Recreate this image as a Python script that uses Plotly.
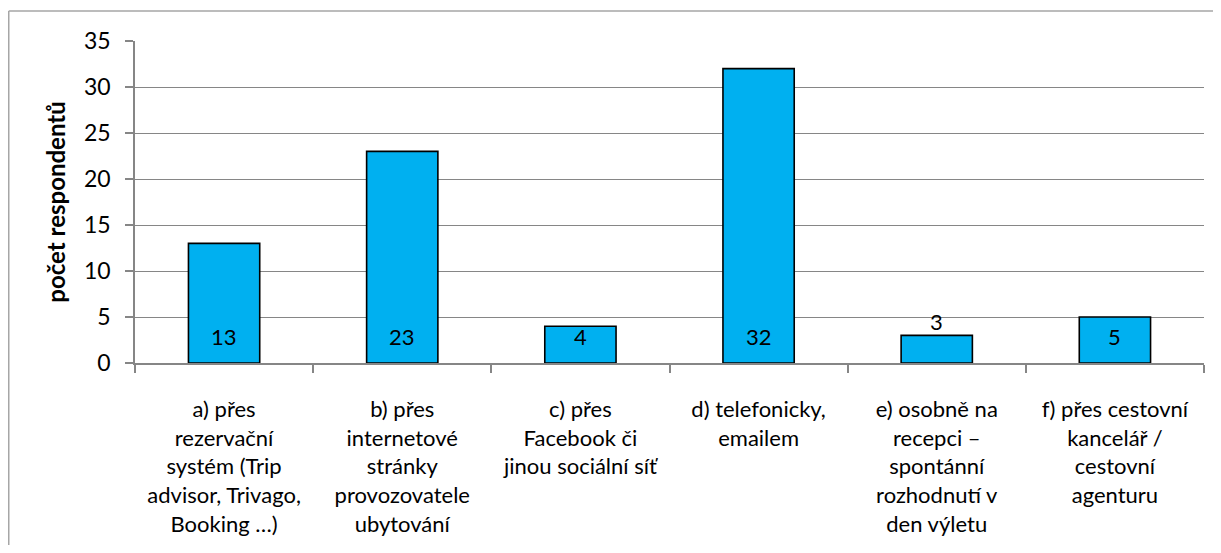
import plotly.graph_objects as go

categories = [
    "a) přes<br>rezervační<br>systém (Trip<br>advisor, Trivago,<br>Booking …)",
    "b) přes<br>internetové<br>stránky<br>provozovatele<br>ubytování",
    "c) přes<br>Facebook či<br>jinou sociální síť",
    "d) telefonicky,<br>emailem",
    "e) osobně na<br>recepci –<br>spontánní<br>rozhodnutí v<br>den výletu",
    "f) přes cestovní<br>kancelář /<br>cestovní<br>agenturu",
]
values = [13, 23, 4, 32, 3, 5]
y_ticks = [0, 5, 10, 15, 20, 25, 30, 35]
y_title = "počet respondentů"

FONT = "Lato"
# page body has an 8px margin; figure is sized to fit the window
W, H = 1205, 537
ML, MR, MT, MB = 127, 9, 33, 182

fig = go.Figure()
fig.add_trace(go.Bar(
    x=categories, y=values,
    marker=dict(color="#00B0F0", line=dict(color="#000000", width=1.6)),
    width=0.4,
    hoverinfo="skip",
))

annotations = []
for c, v in zip(categories, values):
    if v >= 4:
        annotations.append(dict(x=c, y=0, yanchor="bottom", yshift=11, text=str(v),
                                showarrow=False, font=dict(family=FONT, size=22, color="#000")))
    else:
        annotations.append(dict(x=c, y=v, yanchor="bottom", yshift=-2, text=str(v),
                                showarrow=False, font=dict(family=FONT, size=22, color="#000")))

pw = W - ML - MR
ph = H - MT - MB
x0 = (0.75 - ML) / pw
y1 = (H - MB - 3) / ph
shapes = [
    dict(type="line", xref="paper", yref="paper", x0=x0, x1=x0, y0=-2, y1=y1,
         line=dict(color="#A6A6A6", width=1.5)),
    dict(type="line", xref="paper", yref="paper", x0=x0, x1=2, y0=y1, y1=y1,
         line=dict(color="#A6A6A6", width=1.5)),
]

fig.update_layout(
    width=W, height=H,
    margin=dict(l=ML, r=MR, t=MT, b=MB, autoexpand=False),
    paper_bgcolor="white", plot_bgcolor="white",
    showlegend=False,
    font=dict(family=FONT, size=22, color="#000"),
    annotations=annotations,
    shapes=shapes,
    bargap=0.6,
)
fig.update_xaxes(
    type="category",
    showline=True, linecolor="#868686", linewidth=1.5,
    ticks="outside", tickson="boundaries", ticklen=8, tickcolor="#868686", tickwidth=1.5,
    tickfont=dict(family=FONT, size=22, color="#000"),
    ticklabelstandoff=26,
    showgrid=False,
)
fig.update_yaxes(
    range=[0, 35], tickvals=y_ticks,
    showline=True, linecolor="#868686", linewidth=1.5,
    ticks="outside", ticklen=8, tickcolor="#868686", tickwidth=1.5,
    showgrid=True, gridcolor="#868686", gridwidth=1.2,
    zeroline=False,
    tickfont=dict(family=FONT, size=23, color="#000"),
    ticklabelstandoff=10,
    title=dict(text="<b>" + y_title + "</b>", font=dict(family=FONT, size=24, color="#000"), standoff=12),
)

fig.write_html("out.html")
